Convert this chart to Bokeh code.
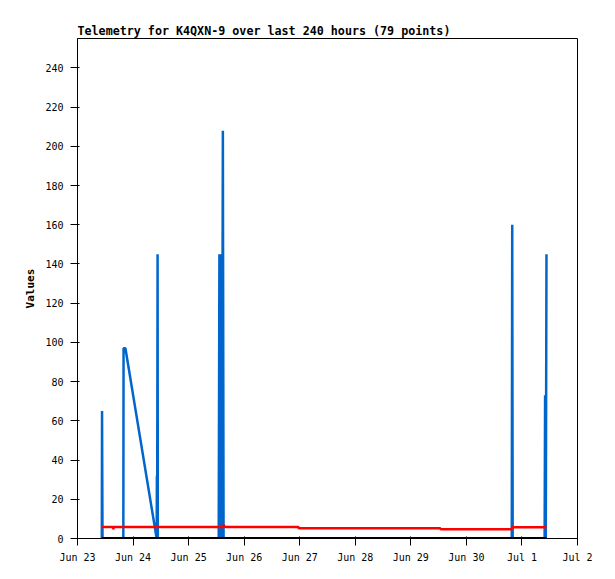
from bokeh.plotting import figure
from bokeh.models import ColumnDataSource, FixedTicker, Range1d
from bokeh.embed import file_html
from bokeh.resources import INLINE

# hours since Jun 23 00:00
hours = [
    10.5, 10.6, 10.8, 13.0, 15.4, 15.5, 15.6, 17.8, 19.8, 19.9, 20.7,
    34.2, 34.3, 34.4, 34.6, 34.7, 37.5, 40.9, 44.2, 47.6, 51.0, 54.3, 57.8, 61.0,
    61.3, 61.6, 62.0, 62.4, 62.8, 63.1, 63.6, 66.8, 70.3, 73.7, 77.1, 80.4, 83.9, 87.2, 90.6, 94.0, 95.4, 95.6,
    99.0, 102.4, 105.8, 109.1, 112.5, 115.9, 119.3, 122.7, 126.1, 129.4, 132.8, 136.2, 139.6, 143.0, 146.4,
    149.7, 153.1, 156.7, 156.9,
    160.3, 163.7, 167.1, 170.5, 173.8, 177.2, 180.6, 184.0, 187.6, 187.8, 188.0,
    191.4, 194.8, 198.2, 201.8, 202.0, 202.3, 202.6,
]
blue = [
    0, 65, 0, 0, 0, 0, 0, 0, 0, 97, 97,
    0, 32, 0, 145, 0, 0, 0, 0, 0, 0, 0, 0, 0,
    145, 0, 145, 0, 208, 0, 0, 0, 0, 0, 0, 0, 0, 0, 0, 0, 0, 0,
    0, 0, 0, 0, 0, 0, 0, 0, 0, 0, 0, 0, 0, 0, 0,
    0, 0, 0, 0,
    0, 0, 0, 0, 0, 0, 0, 0, 0, 160, 0,
    0, 0, 0, 0, 73, 0, 145,
]
red = [
    5.9, 5.9, 5.9, 5.9, 5.9, 4.6, 5.9, 5.9, 5.9, 5.9, 5.9,
    5.9, 5.9, 5.9, 5.9, 5.9, 5.9, 5.9, 5.9, 5.9, 5.9, 5.9, 5.9, 5.9,
    5.9, 5.9, 5.9, 5.9, 5.9, 7.0, 5.9, 5.9, 5.9, 5.9, 5.9, 5.9, 5.9, 5.9, 5.9, 5.9, 5.9, 5.2,
    5.2, 5.2, 5.2, 5.2, 5.2, 5.2, 5.2, 5.2, 5.2, 5.2, 5.2, 5.2, 5.2, 5.2, 5.2,
    5.2, 5.2, 5.2, 4.7,
    4.7, 4.7, 4.7, 4.7, 4.7, 4.7, 4.7, 4.7, 4.7, 5.7, 5.7,
    5.7, 5.7, 5.7, 5.7, 5.7, 5.7, 5.7,
]
black = [0] * len(hours)

tick_hours = [0, 24, 48, 72, 96, 120, 144, 168, 192, 216]
tick_labels = ["Jun 23", "Jun 24", "Jun 25", "Jun 26", "Jun 27",
               "Jun 28", "Jun 29", "Jun 30", "Jul 1", "Jul 2"]
y_ticks = [0, 20, 40, 60, 80, 100, 120, 140, 160, 180, 200, 220, 240]

src = ColumnDataSource(dict(h=hours, blue=blue, red=red, black=black))

p = figure(width=607, height=575, output_backend="svg", toolbar_location=None,
           x_range=Range1d(0, 216), y_range=Range1d(0, 255),
           title="Telemetry for K4QXN-9 over last 240 hours (79 points)",
           min_border_left=77, min_border_right=30, min_border_top=38,
           min_border_bottom=37)

p.title.text_font = "DejaVu Sans Mono"
p.title.text_font_size = "11.7px"
p.title.text_font_style = "bold"
p.title.text_color = "black"
p.title.align = "left"
p.title.offset = 0
p.title.standoff = 1

p.line("h", "blue", source=src, color="#0066cc", line_width=2.5)
p.line("h", "red", source=src, color="#ff0000", line_width=2.5)
p.line("h", "black", source=src, color="#000000", line_width=3)

p.grid.visible = False
p.outline_line_color = "black"
p.outline_line_width = 1
p.background_fill_color = "white"
p.border_fill_color = "white"

p.xaxis.ticker = FixedTicker(ticks=tick_hours)
p.xaxis.major_label_overrides = {t: l for t, l in zip(tick_hours, tick_labels)}
p.yaxis.ticker = FixedTicker(ticks=y_ticks)
p.yaxis.axis_label = "Values"

for ax in (p.xaxis[0], p.yaxis[0]):
    ax.major_label_text_font = "DejaVu Sans Mono"
    ax.major_label_text_font_size = "10px"
    ax.major_label_text_color = "black"
    ax.axis_line_color = "black"
    ax.major_tick_line_color = "black"
    ax.minor_tick_line_color = None
    ax.major_tick_in = 2
    ax.major_tick_out = 7
    ax.axis_label_text_font = "DejaVu Sans Mono"
    ax.axis_label_text_font_size = "11px"
    ax.axis_label_text_font_style = "bold"
    ax.axis_label_text_color = "black"

p.yaxis.major_label_standoff = 7
p.yaxis.axis_label_standoff = 5
p.xaxis.major_label_standoff = 6

open("out.html", "w").write(file_html(p, INLINE))
